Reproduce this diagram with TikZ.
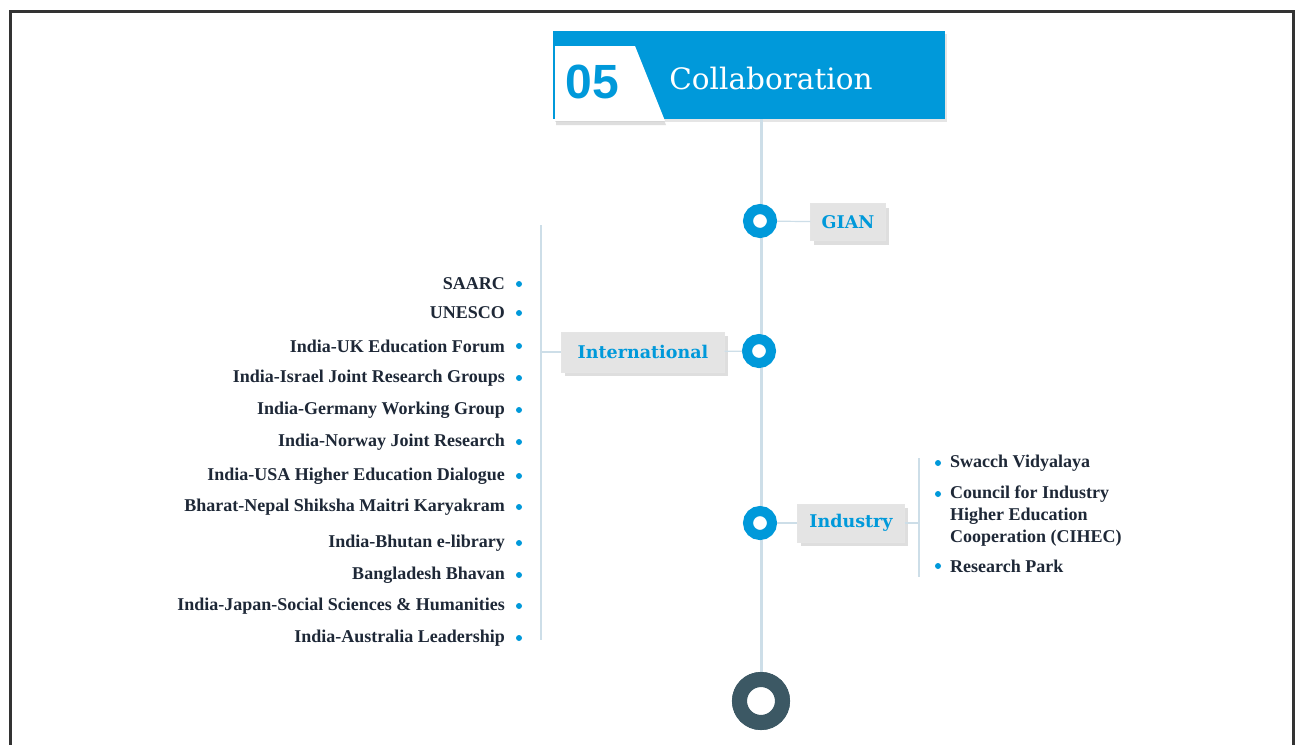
\documentclass[tikz,border=0pt]{standalone}
\usepackage{fontspec}
\setmainfont{Liberation Serif}
\newfontfamily\slabfont{DejaVu Serif}
\newfontfamily\numfont{Liberation Sans}
\usepackage{xcolor}
\usetikzlibrary{calc,shadows,positioning}

\definecolor{collabblue}{RGB}{0,153,218}
\definecolor{ringdark}{RGB}{60,88,100}
\definecolor{stemgray}{RGB}{205,222,232}
\definecolor{boxgray}{RGB}{228,228,228}
\definecolor{itemtext}{RGB}{30,40,55}

\begin{document}
\begin{tikzpicture}[x=1pt,y=-1pt,
	ring/.style={circle,draw=collabblue,line width=10pt,fill=white,minimum size=24pt,inner sep=0pt},
	topicbox/.style={fill=boxgray,draw=black!10,text=collabblue,
		font=\slabfont\bfseries\fontsize{17.5}{20}\selectfont,inner sep=0pt,
		drop shadow={shadow xshift=3pt,shadow yshift=-4pt,fill=black!25}},
	item/.style={text=itemtext,font=\bfseries\fontsize{18}{22}\selectfont,inner sep=0pt},
	dot/.style={circle,fill=collabblue,inner sep=0pt,minimum size=6pt},
	link/.style={draw=stemgray,line width=1.2pt}]
	\clip (0,0) rectangle (1295,744);
	\fill[white] (0,0) rectangle (1295,744);
	\draw[line width=3pt,black!80] (10,11) rectangle (1293,780);
	
	% header
	\node[fill=collabblue,minimum width=392pt,minimum height=88pt,inner sep=0pt,anchor=north west,
		drop shadow={shadow xshift=2pt,shadow yshift=-3pt,fill=black!20}] (hdr) at (553,31) {};
	\fill[white,drop shadow={shadow xshift=1pt,shadow yshift=-4pt,fill=black!25}]
		(555,46) -- (635,46) -- (665,121) -- (555,121) -- cycle;
	\node[text=collabblue,font=\numfont\bfseries\fontsize{48}{48}\selectfont] (num) at (592,82) {05};
	\node[text=white,font=\slabfont\fontsize{29.5}{34}\selectfont] (title) at (771,79) {Collaboration};
	
	% stem and rings
	\node[ring,draw=ringdark,line width=15pt,minimum size=43pt] (fin) at (761,701) {};
	\draw[stemgray,line width=3pt] (hdr.south -| fin) -- (fin);
	\node[ring] (gian) at (760,221) {};
	\node[ring] (intl) at (759,351) {};
	\node[ring] (ind) at (760,523) {};
	\node[ring,draw=ringdark,line width=15pt,minimum size=43pt] at (fin) {};
	
	% topic boxes
	\node[topicbox,minimum width=75pt,minimum height=37pt] (gianbox) at (848,222) {GIAN};
	\node[topicbox,minimum width=163pt,minimum height=40pt] (intlbox) at (643,352) {International};
	\node[topicbox,minimum width=107pt,minimum height=38pt] (indbox) at (851,523) {Industry};
	\draw[link] (gian) -- (gianbox);
	\draw[link] (intlbox) -- (intl);
	\draw[link] (ind) -- (indbox);
	
	% international list
	\coordinate (ltop) at (541,225);
	\coordinate (lbot) at (541,640);
	\coordinate (ljoin) at (541,352);
	\draw[link] (ltop) -- (lbot);
	\draw[link] (ljoin) -- (intlbox.west);
	\foreach \yy/\txt [count=\i] in {284/SAARC,313/UNESCO,346/India-UK Education Forum,
		378/India-Israel Joint Research Groups,410/India-Germany Working Group,
		442/India-Norway Joint Research,476/India-USA Higher Education Dialogue,
		507/Bharat-Nepal Shiksha Maitri Karyakram,543/India-Bhutan e-library,
		575/Bangladesh Bhavan,606/India-Japan-Social Sciences \& Humanities,
		638/India-Australia Leadership}{
		\node[item,anchor=east] (intl\i) at (505,\yy) {\txt};
		\node[dot] (intldot\i) at (519,\yy) {};
	}
	
	% industry list
	\coordinate (rtop) at (919,458);
	\coordinate (rbot) at (919,577);
	\coordinate (rjoin) at (919,523);
	\draw[link] (rtop) -- (rbot);
	\draw[link] (indbox.east) -- (rjoin);
	\node[item,anchor=west] (ind1) at (950,463) {Swacch Vidyalaya};
	\node[dot] (inddot1) at (938,463) {};
	\node[item,anchor=north west,align=left] (ind2) at (950,486)
		{Council for Industry\\Higher Education\\Cooperation (CIHEC)};
	\node[dot] (inddot2) at (938,494) {};
	\node[item,anchor=west] (ind3) at (950,566) {Research Park};
	\node[dot] (inddot3) at (938,566) {};
\end{tikzpicture}
\end{document}
